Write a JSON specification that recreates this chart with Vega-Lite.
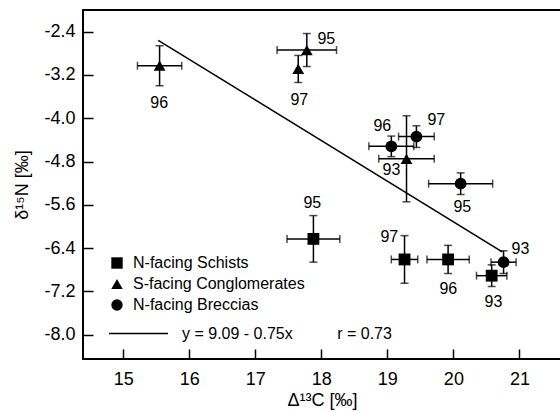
{
  "$schema": "https://vega.github.io/schema/vega-lite/v6.json",
  "width": 478,
  "height": 349,
  "autosize": {"type": "none"},
  "padding": {"left": 83, "top": 10, "right": 0, "bottom": 53},
  "background": "white",
  "config": {
    "font": "Liberation Sans",
    "view": {"stroke": "black", "strokeWidth": 2},
    "axis": {
      "domain": false,
      "grid": false,
      "ticks": true,
      "tickSize": 10,
      "offset": -10,
      "tickColor": "black",
      "tickWidth": 1.5,
      "labelFont": "Liberation Sans",
      "labelFontSize": 18,
      "labelColor": "black",
      "titleFont": "Liberation Sans",
      "titleFontSize": 18,
      "titleFontWeight": "normal",
      "titleColor": "black"
    },
    "legend": {
      "labelFont": "Liberation Sans",
      "labelFontSize": 16,
      "labelColor": "black",
      "labelLimit": 0,
      "padding": 0
    }
  },
  "datasets": {
    "pts": [
      {"group": "N-facing Schists", "year": "95", "x": 17.88, "y": -6.23, "xerr": 0.40, "yerr": 0.43},
      {"group": "N-facing Schists", "year": "97", "x": 19.26, "y": -6.61, "xerr": 0.20, "yerr": 0.44},
      {"group": "N-facing Schists", "year": "96", "x": 19.92, "y": -6.61, "xerr": 0.32, "yerr": 0.26},
      {"group": "N-facing Schists", "year": "93", "x": 20.58, "y": -6.91, "xerr": 0.23, "yerr": 0.20},
      {"group": "S-facing Conglomerates", "year": "96", "x": 15.55, "y": -3.03, "xerr": 0.335, "yerr": 0.37},
      {"group": "S-facing Conglomerates", "year": "95", "x": 17.78, "y": -2.74, "xerr": 0.45, "yerr": 0.305},
      {"group": "S-facing Conglomerates", "year": "97", "x": 17.65, "y": -3.09, "xerr": 0.0, "yerr": 0.25},
      {"group": "S-facing Conglomerates", "year": "93", "x": 19.29, "y": -4.75, "xerr": 0.42, "yerr": 0.795},
      {"group": "N-facing Breccias", "year": "96", "x": 19.06, "y": -4.52, "xerr": 0.34, "yerr": 0.19},
      {"group": "N-facing Breccias", "year": "97", "x": 19.44, "y": -4.34, "xerr": 0.27, "yerr": 0.20},
      {"group": "N-facing Breccias", "year": "95", "x": 20.11, "y": -5.21, "xerr": 0.485, "yerr": 0.20},
      {"group": "N-facing Breccias", "year": "93", "x": 20.76, "y": -6.66, "xerr": 0.19, "yerr": 0.21}
    ],
    "labels": [
      {"text": "96", "x": 15.545, "y": -3.71},
      {"text": "95", "x": 18.076, "y": -2.53},
      {"text": "97", "x": 17.667, "y": -3.66},
      {"text": "93", "x": 19.061, "y": -4.95},
      {"text": "96", "x": 18.924, "y": -4.14},
      {"text": "97", "x": 19.742, "y": -4.03},
      {"text": "95", "x": 20.136, "y": -5.64},
      {"text": "93", "x": 21.015, "y": -6.41},
      {"text": "95", "x": 17.864, "y": -5.56},
      {"text": "97", "x": 19.03, "y": -6.19},
      {"text": "96", "x": 19.924, "y": -7.15},
      {"text": "93", "x": 20.606, "y": -7.39}
    ],
    "fit": [
      {"fit": "y = 9.09 - 0.75x\u00a0\u00a0\u00a0\u00a0\u00a0\u00a0\u00a0\u00a0\u00a0\u00a0r = 0.73", "x": 15.53, "y": -2.56},
      {"fit": "y = 9.09 - 0.75x\u00a0\u00a0\u00a0\u00a0\u00a0\u00a0\u00a0\u00a0\u00a0\u00a0r = 0.73", "x": 20.74, "y": -6.47}
    ]
  },
  "layer": [
    {
      "data": {"name": "fit"},
      "mark": {"type": "line", "strokeWidth": 1.5},
      "encoding": {
        "x": {"field": "x", "type": "quantitative", "title": "Δ¹³C [‰]", "scale": {"domain": [14.39, 21.63], "nice": false, "zero": false},
              "axis": {"values": [15, 16, 17, 18, 19, 20, 21], "format": "d", "labelPadding": 11, "titlePadding": 3}},
        "y": {"field": "y", "type": "quantitative", "title": "δ¹⁵N [‰]", "scale": {"domain": [-8.45, -2.0], "nice": false, "zero": false},
              "axis": {"values": [-2.4, -3.2, -4.0, -4.8, -5.6, -6.4, -7.2, -8.0], "labelPadding": 8, "titlePadding": 12,
                       "labelExpr": "replace(format(datum.value, '.1f'), '\u2212', '-')"}},
        "stroke": {"field": "fit", "type": "nominal", "scale": {"range": ["black"]},
                   "legend": {"orient": "none", "legendX": 25, "legendY": 293, "title": null, "symbolType": "stroke", "symbolSize": 3481, "symbolStrokeWidth": 1.5, "labelOffset": 13}}
      }
    },
    {
      "data": {"name": "pts"},
      "mark": {"type": "errorbar", "ticks": {"size": 8, "thickness": 1.5}, "thickness": 1.5, "color": "black"},
      "encoding": {
        "x": {"field": "x", "type": "quantitative", "title": "Δ¹³C [‰]", "scale": {"domain": [14.39, 21.63], "nice": false, "zero": false}},
        "xError": {"field": "xerr"},
        "y": {"field": "y", "type": "quantitative", "title": "δ¹⁵N [‰]", "scale": {"domain": [-8.45, -2.0], "nice": false, "zero": false}}
      }
    },
    {
      "data": {"name": "pts"},
      "mark": {"type": "errorbar", "ticks": {"size": 8, "thickness": 1.5}, "thickness": 1.5, "color": "black"},
      "encoding": {
        "y": {"field": "y", "type": "quantitative", "title": "δ¹⁵N [‰]", "scale": {"domain": [-8.45, -2.0], "nice": false, "zero": false}},
        "yError": {"field": "yerr"},
        "x": {"field": "x", "type": "quantitative", "title": "Δ¹³C [‰]", "scale": {"domain": [14.39, 21.63], "nice": false, "zero": false}}
      }
    },
    {
      "data": {"name": "pts"},
      "mark": {"type": "point", "filled": true, "color": "black", "opacity": 1, "size": 140},
      "encoding": {
        "x": {"field": "x", "type": "quantitative", "title": "Δ¹³C [‰]", "scale": {"domain": [14.39, 21.63], "nice": false, "zero": false}},
        "y": {"field": "y", "type": "quantitative", "title": "δ¹⁵N [‰]", "scale": {"domain": [-8.45, -2.0], "nice": false, "zero": false}},
        "shape": {"field": "group", "type": "nominal",
                  "scale": {"domain": ["N-facing Schists", "S-facing Conglomerates", "N-facing Breccias"], "range": ["square", "triangle-up", "circle"]},
                  "legend": {"orient": "none", "legendX": 26, "legendY": 245, "title": null, "symbolSize": 130, "symbolFillColor": "black", "symbolStrokeColor": "black", "symbolOpacity": 1, "rowPadding": 4, "labelOffset": 8}}
      }
    },
    {
      "data": {"name": "labels"},
      "mark": {"type": "text", "fontSize": 16, "color": "black", "align": "center", "baseline": "middle", "font": "Liberation Sans"},
      "encoding": {
        "x": {"field": "x", "type": "quantitative", "title": "Δ¹³C [‰]", "scale": {"domain": [14.39, 21.63], "nice": false, "zero": false}},
        "y": {"field": "y", "type": "quantitative", "title": "δ¹⁵N [‰]", "scale": {"domain": [-8.45, -2.0], "nice": false, "zero": false}},
        "text": {"field": "text"}
      }
    }
  ]
}
